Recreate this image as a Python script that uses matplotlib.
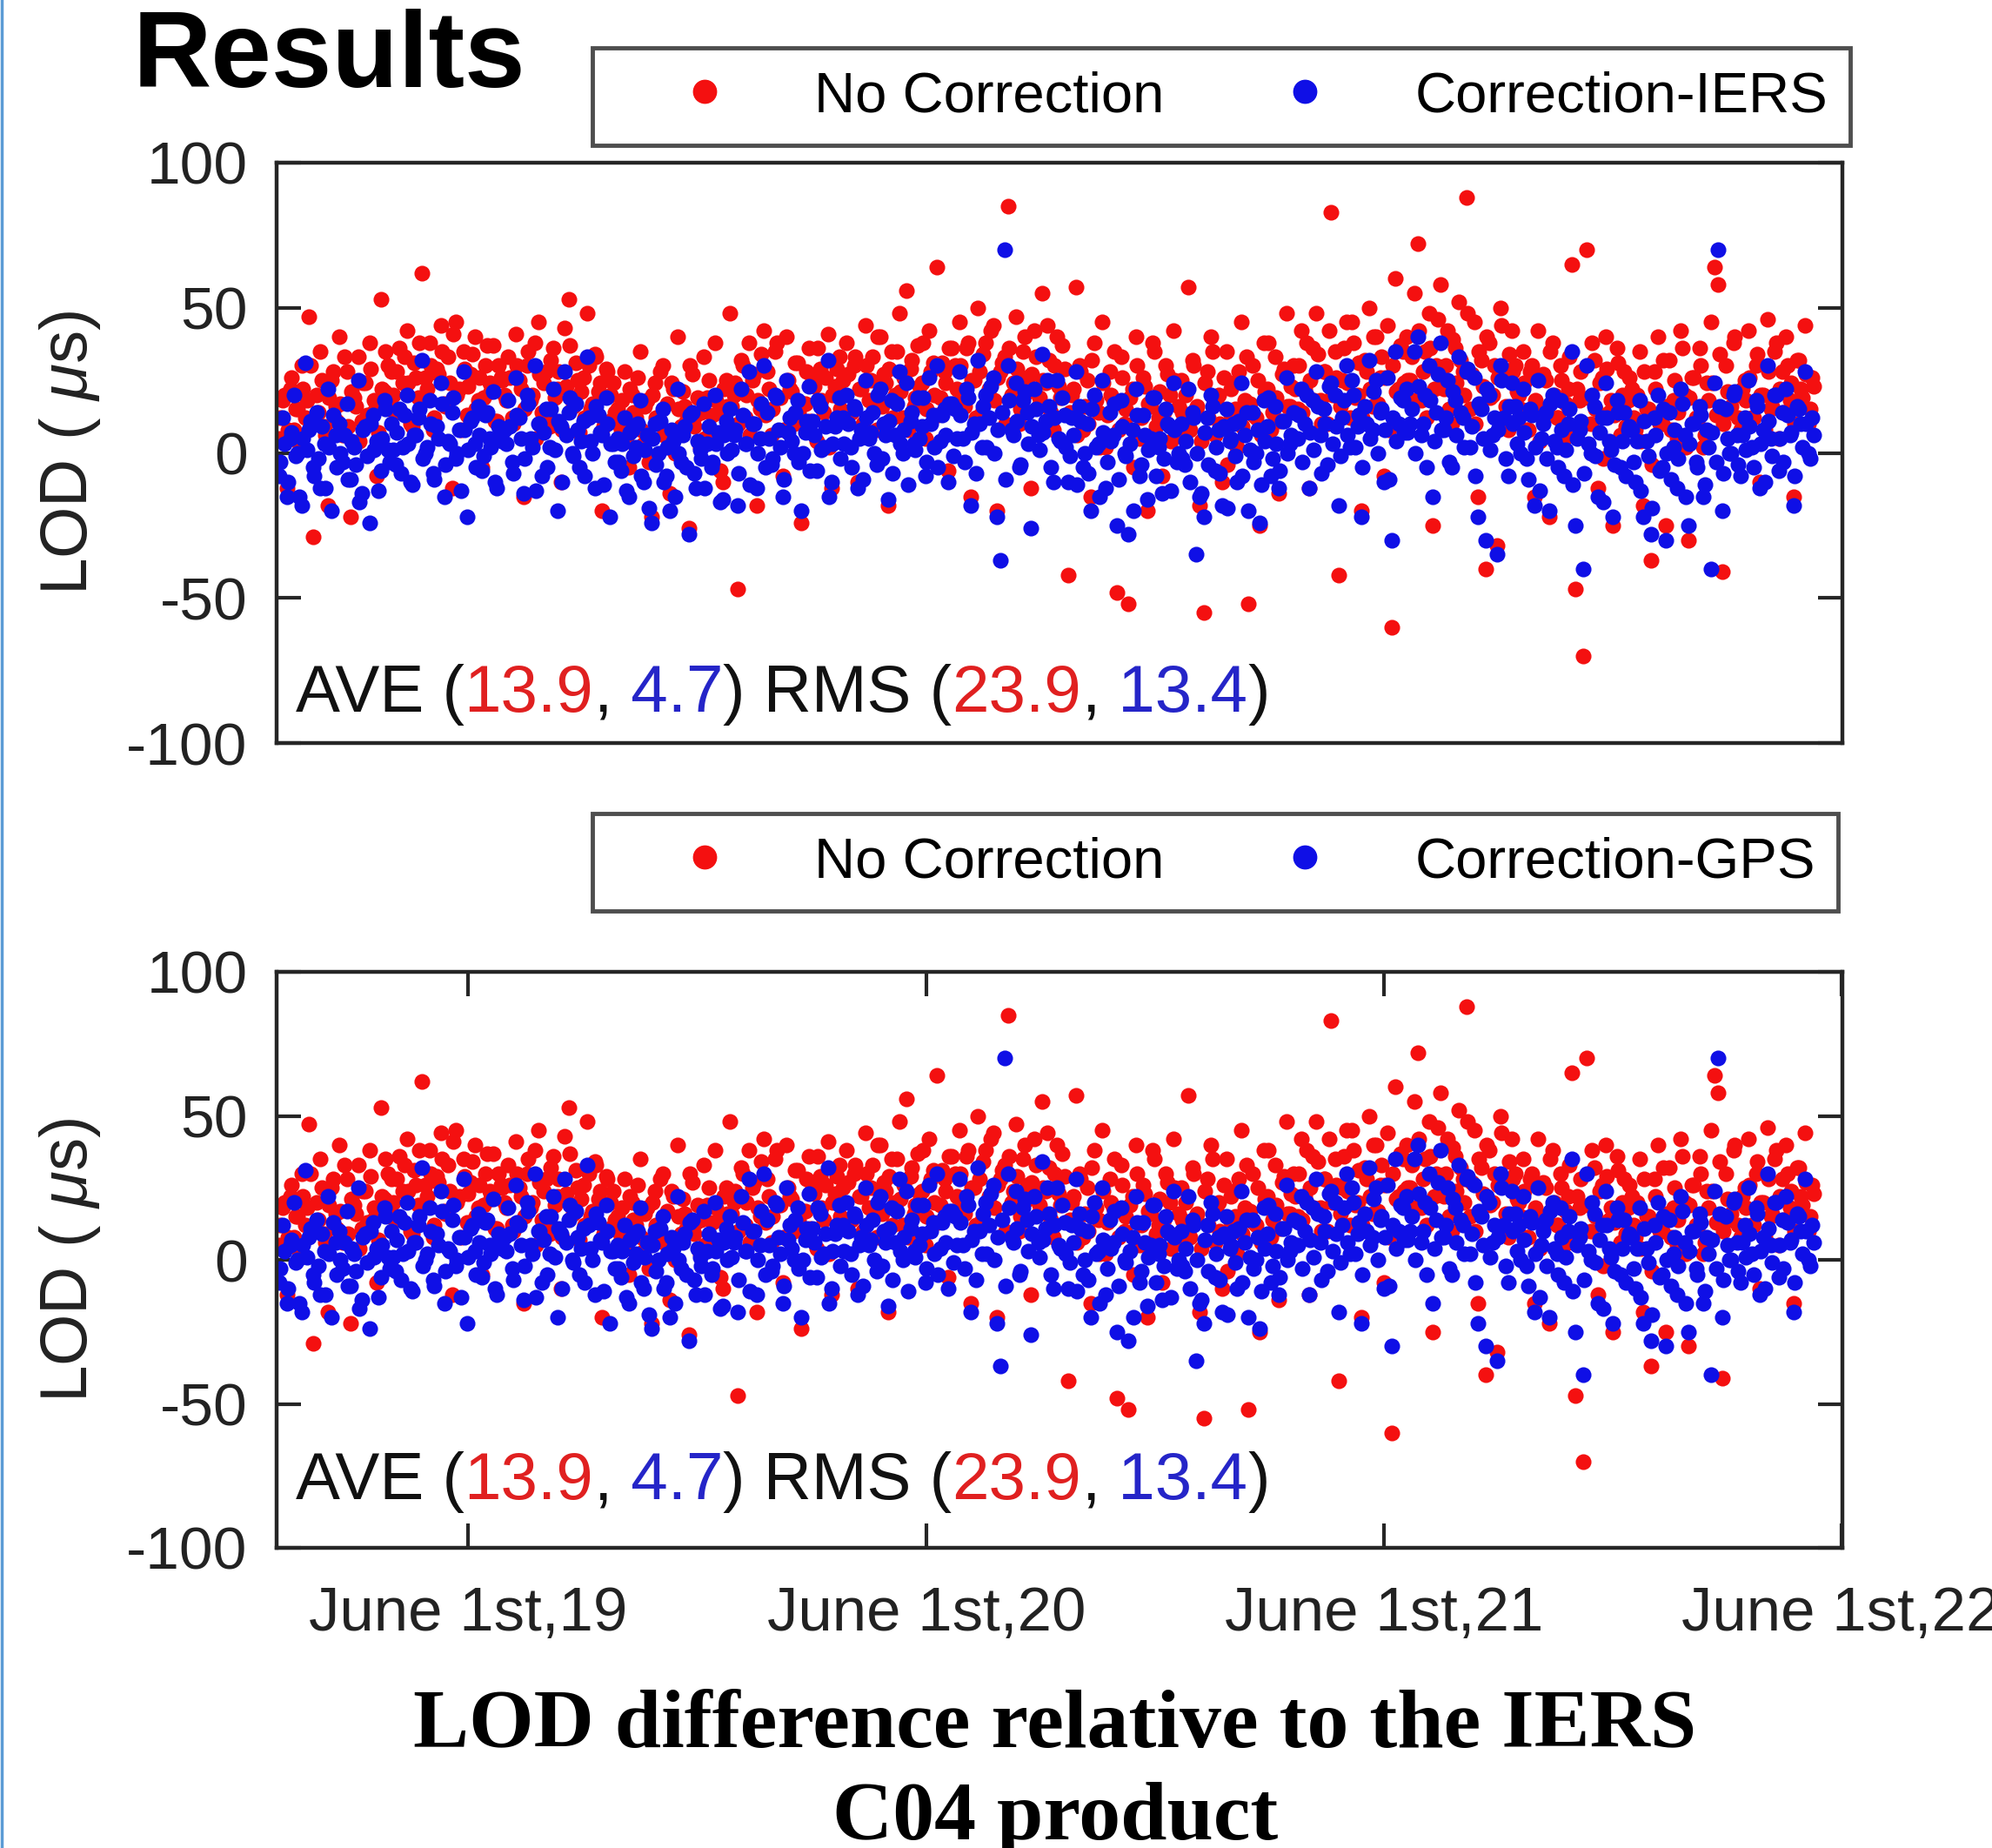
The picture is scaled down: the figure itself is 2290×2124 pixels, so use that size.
import numpy as np
import matplotlib
matplotlib.use('Agg')
import matplotlib.pyplot as plt
from matplotlib.lines import Line2D
from matplotlib.offsetbox import TextArea, HPacker, AnchoredOffsetbox

# LOD difference w.r.t. IERS C04 (micro-seconds).
# Set "a" is one value every 3 days from 2019-01-01, set "b" the same
# grid shifted by one day (the dense core of the cloud).
start_day = np.datetime64('2019-01-01')
step_days = 3

no_corr_a = [
    5, 18, -12, 22, 8, 15, 30, 12, 47, -29, 20, 35, 9, -18, 25, 16, 40, 6, 28, -22, 19, 33, 11, 24, 38, 14, -8, 53, 21, 30,
    28, 15, 36, 24, 42, 10, 31, 19, 62, 26, 38, 8, 29, 44, 17, 33, -12, 45, 22, 35, 13, 27, 40, 18, -5, 30, 24, 37, 11, 26,
    20, 33, 12, 41, 25, -15, 30, 18, 38, 45, 14, 28, 9, 36, 22, -10, 43, 53, 19, 31, 7, 26, 48, 15, 34, 21, -20, 29, 11, 24,
    15, 8, 28, -5, 20, 12, 35, 3, 18, -22, 24, 10, 30, 6, -14, 22, 40, 9, 16, -26, 27, 13, 2, 33, 19, 7, 38, 14, -10, 25,
    48, 20, -47, 32, 12, 38, 25, -18, 15, 42, 28, 6, 35, 19, -8, 40, 22, 10, 31, -24, 17, 36, 26, 4, 29, 14, 41, -12, 23, 33,
    25, 38, 14, 30, -10, 22, 44, 18, 33, 8, 40, 27, -18, 35, 20, 48, 12, 56, 29, 16, 37, 24, 5, 42, 31, 64, 19, 28, -6, 36,
    30, 45, 18, 36, -15, 25, 50, 14, 38, 22, 44, -20, 28, 33, 85, 20, 47, 10, 35, 26, -12, 42, 16, 55, 24, 32, 8, 40, 19, 29,
    -42, 20, 57, 30, 8, 25, -15, 38, 14, 45, 2, 28, 18, -48, 33, 10, -52, 22, 40, 5, 26, -20, 16, 35, 12, -8, 30, 20, 42, 6,
    25, 10, 57, 32, 15, -18, -55, 28, 40, 6, 20, -10, 35, 14, 24, 2, 45, 18, -52, 30, 12, -25, 38, 22, 8, 33, -14, 27, 48, 16,
    30, 15, 42, 22, -12, 36, 48, 18, 28, 10, 83, 35, -42, 25, 45, 12, 38, 20, -20, 32, 50, 16, 40, 26, -8, 44, -60, 60, 22, 35,
    40, 25, 55, 72, 18, 35, 48, -25, 30, 58, 22, 42, 10, 36, 52, 28, 88, 15, 45, -15, 32, -40, 38, 20, -32, 50, 26, 8, 42, 30,
    20, 35, 8, 28, -15, 42, 15, 25, -22, 38, 12, 30, 5, 22, 65, -47, 18, -70, 70, 10, 32, -12, 26, 40, 14, -25, 36, 6, 28, 18,
    22, 8, 35, -18, 15, -37, 28, 40, 10, -25, 32, 18, 5, 42, 20, -30, 26, 12, 36, 2, 24, 45, 64, 58, -41, 30, 14, 38, 20, 8,
    25, 42, 12, 30, -10, 20, 46, 15, 35, 5, 28, 40, 18, -15, 32, 22, 44, 10, 26,
]
no_corr_b = [
    12, 20, 8, 26, 15, 3, 22, 18, 30, 10, 14, 25, 6, 19, 28, 11, 17, 33, 9, 21, 16, 4, 24, 13, 29, 18, 7, 22, 35, 15,
    20, 28, 14, 33, 24, 9, 26, 38, 18, 22, 30, 12, 27, 35, 16, 24, 41, 20, 8, 29, 23, 34, 15, 26, 19, 37, 21, 11, 30, 25,
    18, 26, 10, 30, 22, 15, 35, 20, 5, 27, 24, 13, 32, 19, 28, 8, 23, 37, 16, 25, 21, 12, 30, 17, 33, 24, 9, 28, 20, 14,
    10, 18, 4, 22, 14, 26, 8, 16, -3, 20, 12, 28, 6, 17, 24, 0, 15, 21, 11, 30, 9, 19, 14, 5, 25, 13, 18, -6, 22, 16,
    16, 24, 10, 30, 20, 6, 27, 18, 34, 13, 22, 15, 38, 19, 8, 25, 21, 31, 14, 17, 28, 11, 23, 36, 18, 26, 2, 20, 29, 15,
    20, 27, 14, 33, 22, 10, 30, 25, 18, 40, 16, 24, 29, 12, 35, 21, 26, 8, 32, 19, 23, 38, 15, 28, 20, 13, 31, 24, 36, 17,
    22, 30, 16, 38, 25, 12, 28, 34, 20, 42, 18, 26, 31, 10, 36, 24, 29, 15, 40, 21, 27, 33, 19, 25, 44, 14, 30, 23, 37, 20,
    14, 22, 6, 28, 16, 10, 32, 18, 2, 24, 13, 20, 35, 8, 26, 15, 19, -5, 30, 12, 23, 17, 38, 9, 21, 14, 27, 4, 25, 16,
    14, 20, 8, 30, 16, 4, 24, 12, 35, 18, 10, 26, -4, 22, 15, 28, 9, 33, 17, 13, 25, 6, 21, 38, 14, 19, 11, 29, 16, 23,
    22, 30, 14, 38, 25, 18, 34, 10, 28, 42, 20, 26, 16, 36, 24, 45, 19, 31, 12, 28, 22, 40, 17, 33, 26, 8, 30, 21, 37, 24,
    25, 33, 18, 42, 28, 12, 36, 22, 46, 26, 30, 15, 39, 24, 32, 20, 48, 27, 10, 35, 23, 40, 19, 30, 26, 44, 16, 34, 28, 21,
    15, 24, 8, 30, 18, 4, 27, 14, 35, 20, 12, 25, 17, 33, 6, 22, 28, 10, 19, 38, 15, 24, -2, 29, 18, 13, 31, 20, 9, 26,
    12, 20, 4, 28, 15, -4, 22, 10, 32, 16, 8, 25, 14, 36, 2, 19, 26, 11, 30, 6, 18, 24, 13, 34, 10, 21, 16, 40, 12, 22,
    18, 26, 12, 34, 20, 8, 28, 16, 38, 22, 14, 30, 24, 10, 32, 19, 27, 15, 23,
]

corr_iers_a = [
    -8, 12, -15, 5, 20, 0, -18, 31, 8, -5, 14, -12, 3, 22, -20, 6, 10, -3, 17, -9, 2, 25, -14, 9, -24, 13, 4, -6, 18, 1,
    10, -4, 15, 2, 20, -10, 6, 12, 32, 0, 18, -7, 9, 24, -15, 4, 14, -2, 8, 28, -22, 11, 3, 16, -6, 13, 5, 21, -12, 7,
    8, 18, -3, 26, 12, -14, 20, 5, 30, 10, -8, 15, 2, 22, -20, 9, 28, 14, 0, 17, -5, 11, 33, 4, -12, 13, 6, 19, -22, 3,
    5, -6, 12, -15, 8, 2, 18, -10, 6, -24, 10, 0, 15, -8, -20, 4, 22, -3, 9, -28, 14, -12, 1, 17, 3, -5, 20, 7, -16, 11,
    15, 6, -18, 22, 3, 28, 10, -12, 5, 30, 14, -4, 20, 8, -15, 25, 12, 0, 18, -20, 7, 23, 11, -6, 16, 2, 32, -10, 9, 19,
    12, 20, 2, 16, -12, 8, 25, 5, 14, -4, 22, 10, -16, 18, 6, 28, 0, 24, 11, 3, 19, 9, -8, 26, 13, 30, 4, 15, -10, 17,
    15, 28, 5, 22, -18, 10, 32, 2, 20, 12, 26, -22, -37, 70, 30, 8, 24, -5, 18, 14, -26, 22, 6, 34, 11, 16, -10, 25, 4, 13,
    -10, 12, 28, 16, -5, 10, -20, 20, 3, 25, -12, 14, 6, -25, 18, 0, -28, 8, 22, -8, 13, -16, 5, 19, 2, -14, 15, 9, 24, -3,
    10, -4, 22, 14, -35, -15, -22, 12, 20, -6, 8, -18, 15, 4, 10, -10, 24, 6, -20, 14, 0, -24, 18, 9, -8, 16, -12, 11, 26, 3,
    14, 5, 22, 10, -12, 18, 28, 6, 15, -4, 24, 20, -18, 12, 30, 2, 20, 9, -22, 16, 32, 8, 25, 14, -10, 26, -30, 35, 10, 18,
    22, 10, 35, 40, 6, 20, 30, -15, 14, 38, 8, 25, -5, 18, 33, 12, 28, 2, 26, -22, 15, -30, 20, 6, -35, 30, 12, -8, 24, 16,
    12, 22, -2, 15, -18, 25, 5, 14, -20, 20, 2, 18, -8, 10, 35, -25, 8, -40, 30, 0, 16, -15, 12, 24, 4, -22, 18, -5, 14, 8,
    8, -10, 18, -22, 4, -28, 12, 20, -5, -30, 14, 2, -12, 22, 6, -25, 10, -3, 16, -15, 8, -40, 24, 70, -20, 15, 0, 20, 6, -8,
    12, 25, 2, 18, -12, 8, 30, 5, 20, -6, 14, 22, 6, -18, 16, 10, 28, 0, 12,
]
corr_iers_b = [
    -3, 3, -10, 7, -1, -15, 5, 1, 11, -8, -2, 9, -12, 2, 13, -5, 0, 6, -9, 4, -4, -17, 8, -1, 10, 1, -13, 5, 15, -3,
    1, 7, -7, 13, 3, -11, 6, 15, -2, 2, 10, -9, 5, 17, -4, 3, 19, 0, -13, 8, 1, 12, -5, 6, -1, 14, 2, -10, 9, 4,
    3, 9, -7, 13, 5, -2, 17, 2, -13, 10, 7, -5, 15, 1, 11, -10, 6, 19, -1, 8, 4, -8, 12, 0, 16, 7, -11, 10, 3, -3,
    -3, 3, -13, 7, -1, 10, -8, 1, -19, 5, -4, 11, -10, 2, 8, -15, 0, 6, -5, 13, -7, 4, -2, -12, 9, -3, 3, -17, 6, 0,
    1, 8, -7, 13, 3, -11, 10, 0, 17, -5, 5, -2, 19, 2, -9, 7, 4, 14, -3, 0, 11, -6, 6, 18, 1, 9, -15, 3, 12, -2,
    3, 10, -5, 15, 5, -9, 12, 7, 0, 20, -2, 6, 11, -7, 17, 3, 8, -11, 14, 1, 5, 19, -3, 10, 2, -5, 13, 6, 17, -1,
    5, 13, -3, 19, 7, -7, 10, 16, 2, 23, 0, 8, 14, -9, 18, 6, 11, -4, 21, 3, 9, 15, 1, 7, 25, -5, 12, 5, 19, 2,
    -1, 6, -11, 11, 0, -7, 15, 2, -15, 7, -3, 4, 17, -9, 9, -1, 3, -20, 13, -4, 6, 1, 19, -8, 5, -2, 10, -13, 8, 0,
    -2, 4, -10, 12, 0, -14, 7, -4, 16, 2, -7, 9, -19, 5, -1, 11, -8, 14, 1, -3, 8, -11, 4, 19, -2, 3, -6, 11, 0, 6,
    5, 13, -3, 20, 7, 1, 16, -7, 10, 23, 3, 9, -1, 18, 6, 25, 2, 13, -5, 10, 5, 21, 0, 15, 8, -9, 12, 4, 19, 7,
    7, 15, 0, 23, 10, -5, 18, 4, 27, 8, 12, -3, 21, 6, 14, 2, 29, 9, -8, 17, 5, 22, 1, 12, 8, 25, -2, 16, 10, 3,
    0, 7, -9, 13, 2, -13, 10, -2, 17, 4, -5, 8, 1, 15, -11, 5, 11, -7, 3, 20, -1, 7, -17, 12, 1, -4, 14, 4, -8, 9,
    -3, 4, -13, 11, -1, -19, 6, -6, 15, 0, -9, 8, -2, 17, -15, 3, 10, -5, 13, -11, 2, 7, -3, 16, -7, 5, 0, 21, -4, 6,
    1, 9, -5, 16, 3, -10, 11, -1, 20, 5, -3, 13, 7, -8, 15, 2, 10, -2, 6,
]

# the GPS-corrected series reads the same as the IERS one in the picture
corr_gps_a = list(corr_iers_a)
corr_gps_b = list(corr_iers_b)

stats_text = [("AVE (", "k"), ("13.9", "r"), (",", "k"), (" 4.7", "b"), (") RMS (", "k"),
              ("23.9", "r"), (",", "k"), (" 13.4", "b"), (")", "k")]
tick_dates = ['2019-06-01', '2020-06-01', '2021-06-01', '2022-06-01']
tick_labels = ['June 1st,19', 'June 1st,20', 'June 1st,21', 'June 1st,22']

RED = '#f41010'
BLUE = '#0f0fe6'
TXT_COL = {"k": '#111111', "r": '#e02020', "b": '#2525c8'}
AX_COL = '#262626'
DOT = 170

plt.rcParams['font.family'] = ['Liberation Sans', 'DejaVu Sans']
plt.rcParams['axes.unicode_minus'] = False
plt.rcParams['mathtext.fontset'] = 'custom'
plt.rcParams['mathtext.rm'] = 'Liberation Sans'
plt.rcParams['mathtext.it'] = 'Liberation Sans:italic'

W, H = 2290, 2124
fig = plt.figure(figsize=(W / 100, H / 100), dpi=100)


def day_grid(vals, offset):
    return start_day + offset + np.arange(len(vals)) * step_days


def fx(px):
    return px / W


def fy(py):
    return 1 - py / H


def make_panel(rect, blue_a, blue_b, blue_name, leg_xy, stat_y, xticks):
    ax = fig.add_axes(rect)
    ax.scatter(day_grid(no_corr_a, 0), no_corr_a, s=DOT, color=RED, linewidths=0, zorder=2)
    ax.scatter(day_grid(no_corr_b, 1), no_corr_b, s=DOT, color=RED, linewidths=0, zorder=2)
    ax.scatter(day_grid(blue_a, 0), blue_a, s=DOT, color=BLUE, linewidths=0, zorder=3)
    ax.scatter(day_grid(blue_b, 1), blue_b, s=DOT, color=BLUE, linewidths=0, zorder=3)
    ax.set_xlim(np.datetime64('2018-12-30'), np.datetime64('2022-06-02'))
    ax.set_ylim(-100, 100)
    ax.set_yticks([-100, -50, 0, 50, 100])
    for sp in ax.spines.values():
        sp.set_linewidth(3.2)
        sp.set_color(AX_COL)
        sp.set_zorder(5)
    ax.tick_params(axis='y', direction='in', length=20, width=3, left=True, right=True,
                   labelsize=50, pad=24, colors=AX_COL, labelcolor='#222222')
    if xticks:
        ax.set_xticks([np.datetime64(d) for d in tick_dates])
        ax.set_xticklabels(tick_labels)
        ax.tick_params(axis='x', direction='in', length=20, width=3, top=True, bottom=True,
                       labelsize=51, pad=32, colors=AX_COL, labelcolor='#222222')
    else:
        ax.set_xticks([])
    ax.set_ylabel(r'LOD ( $\mu$s)', fontsize=55, va='center', color='#222222')
    ax.yaxis.set_label_coords(-0.132, 0.5)

    handles = [Line2D([], [], ls='none', marker='o', ms=19, color=RED),
               Line2D([], [], ls='none', marker='o', ms=19, color=BLUE)]
    leg = fig.legend(handles, ['No Correction', blue_name], ncol=2, loc='upper left',
                     bbox_to_anchor=(fx(leg_xy[0]), fy(leg_xy[1])), borderaxespad=0,
                     fontsize=47, handlelength=3.15, handletextpad=0.36, columnspacing=0.9,
                     borderpad=0.4, frameon=True, fancybox=False, edgecolor='#222222')
    leg.get_frame().set_linewidth(3.5)

    boxes = [TextArea(s, textprops=dict(color=TXT_COL[c], fontsize=55)) for s, c in stats_text]
    pack = HPacker(children=boxes, align='baseline', pad=0, sep=0)
    anc = AnchoredOffsetbox(loc='lower left', child=pack, pad=0, borderpad=0, frameon=False,
                            bbox_to_anchor=(0.012, stat_y), bbox_transform=ax.transAxes)
    anc.set_zorder(6)
    ax.add_artist(anc)
    return ax


make_panel([fx(318), fy(854), fx(1800), 667 / H], corr_iers_a, corr_iers_b, 'Correction-IERS',
           (681, 55), 0.03, False)
make_panel([fx(318), fy(1779), fx(1800), 662 / H], corr_gps_a, corr_gps_b, 'Correction-GPS',
           (681, 935), 0.06, True)

fig.text(fx(153), fy(100), 'Results', fontsize=90, fontweight='bold', ha='left', va='baseline')
fig.text(fx(1213), fy(2008), 'LOD difference relative to the IERS', fontsize=69,
         fontweight='bold', family='Liberation Serif', ha='center', va='baseline')
fig.text(fx(1213), fy(2114), 'C04 product', fontsize=69,
         fontweight='bold', family='Liberation Serif', ha='center', va='baseline')

# slide border on the left edge
fig.add_artist(Line2D([0.0008, 0.0008], [0, 1], transform=fig.transFigure, color='#5b9bd5', lw=2.5))

fig.savefig('out.png', dpi=100, facecolor='white')
